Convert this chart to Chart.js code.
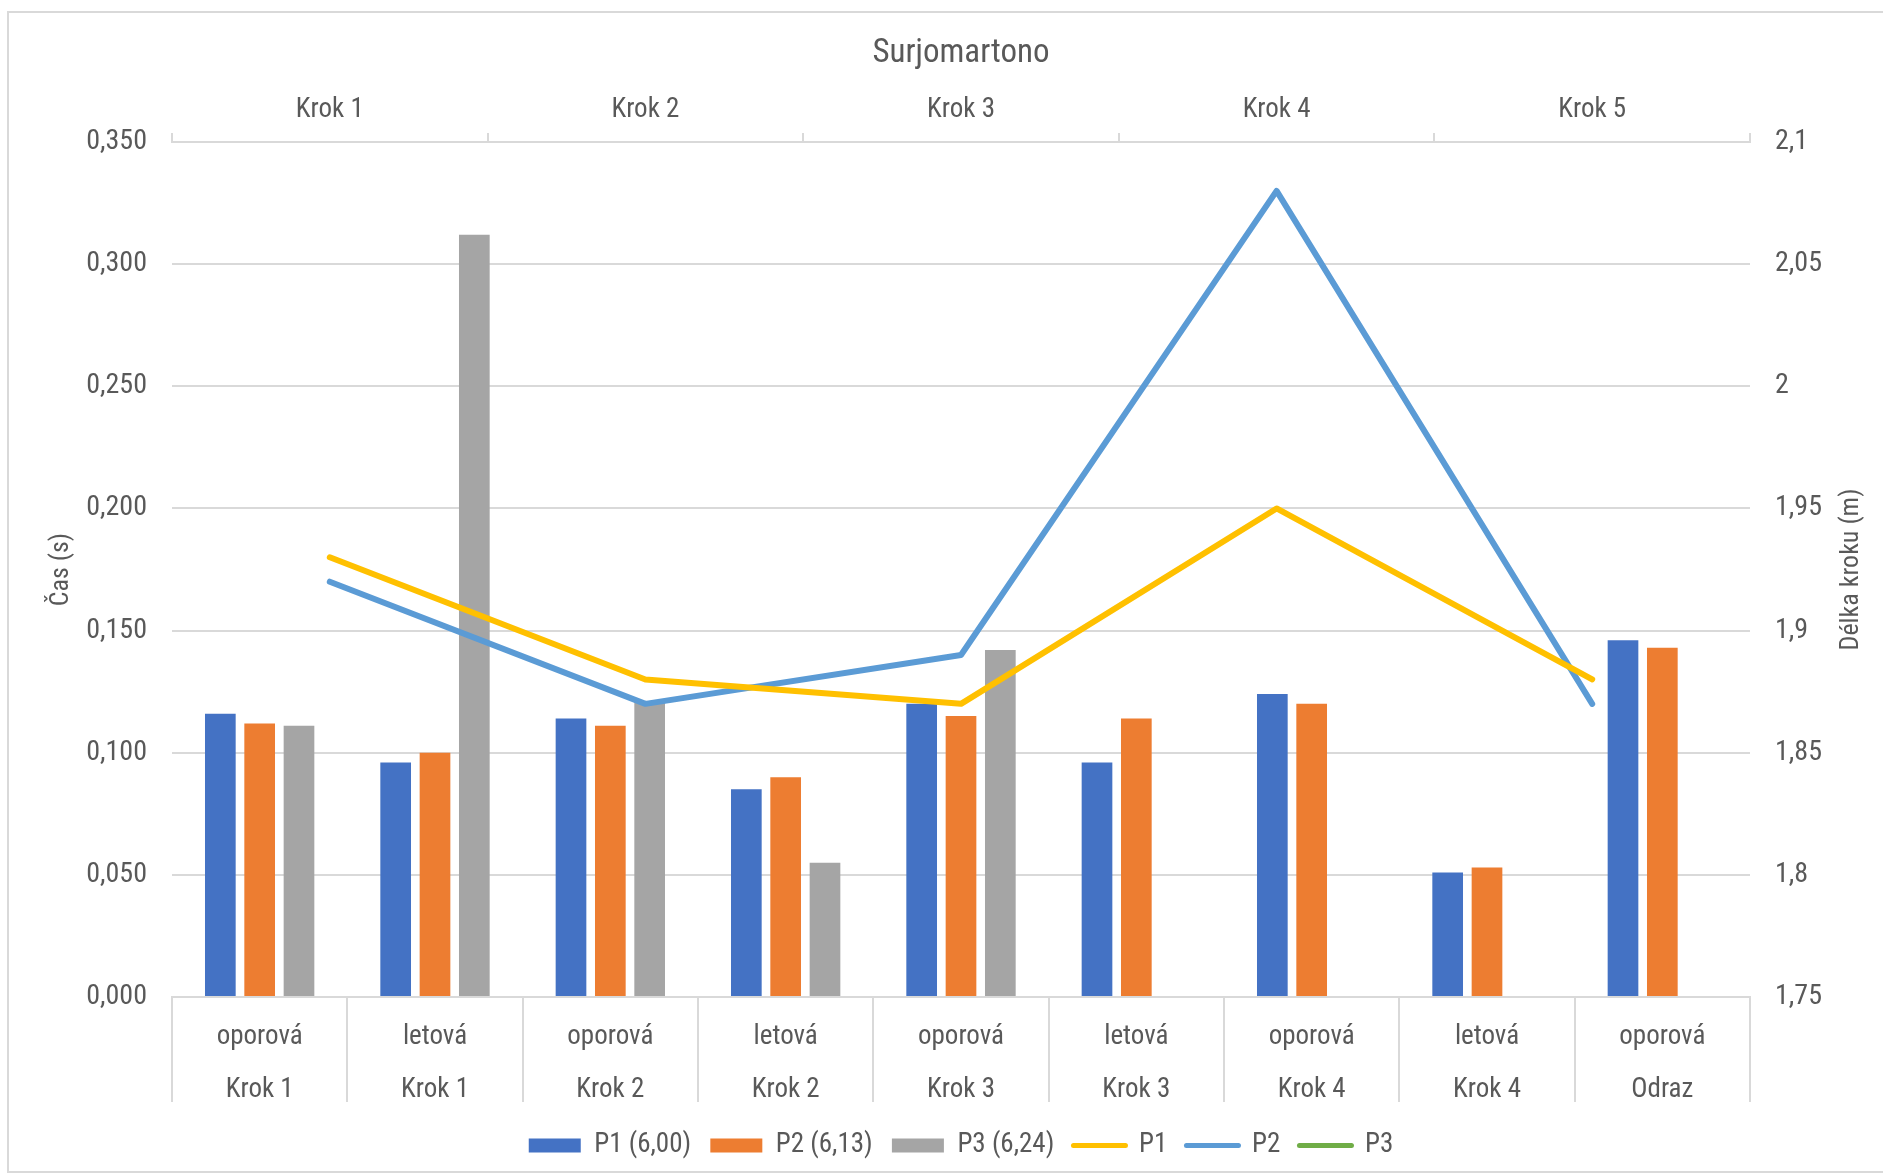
<!DOCTYPE html>
<html>
<head>
<meta charset="utf-8">
<script src="https://cdn.jsdelivr.net/npm/chart.js@4.4.1/dist/chart.umd.min.js"></script>
<style>
  html, body { margin: 0; padding: 0; background: #fff; overflow: hidden; }
  #wrap { position: relative; width: 1883px; height: 1176px; }
  #wrap canvas { position: absolute; left: 0; top: 0; }
  #frame { position: absolute; left: 7px; top: 11px; width: 1900px; height: 1158px; border: 2px solid #d9d9d9; pointer-events: none; }
</style>
</head>
<body>
<div id="wrap">
  <canvas id="graf" width="1883" height="1176"></canvas>
  <canvas id="grafCary" width="1883" height="1176"></canvas>
  <div id="frame"></div>
</div>
<script>
// spodni osa - faze kroku
const faze = ["oporová", "letová", "oporová", "letová", "oporová", "letová", "oporová", "letová", "oporová"]
const kroky = ["Krok 1", "Krok 1", "Krok 2", "Krok 2", "Krok 3", "Krok 3", "Krok 4", "Krok 4", "Odraz"]
// horni osa - delka kroku
const krokyNahore = ["Krok 1", "Krok 2", "Krok 3", "Krok 4", "Krok 5"]

// cas (s)
const casP1 = [0.116, 0.096, 0.114, 0.085, 0.120, 0.096, 0.124, 0.051, 0.146]
const casP2 = [0.112, 0.100, 0.111, 0.090, 0.115, 0.114, 0.120, 0.053, 0.143]
const casP3 = [0.111, 0.312, 0.121, 0.055, 0.142, null, null, null, null]

// delka kroku (m)
const delkaP1 = [1.93, 1.88, 1.87, 1.95, 1.88]
const delkaP2 = [1.92, 1.87, 1.89, 2.08, 1.87]
const delkaP3 = [null, null, null, null, null]

const nazvyBar = ["P1 (6,00)", "P2 (6,13)", "P3 (6,24)"]
const nazvyLine = ["P1", "P2", "P3"]

const barvySloupce = ["#4472C4", "#ED7D31", "#A5A5A5"]
const barvyCary = ["#FFC000", "#5B9BD5", "#70AD47"]

const pismo = "'Liberation Sans Narrow', 'Roboto Condensed', 'DejaVu Sans Condensed', sans-serif"
const seda = "#595959"
const mrizka = "#d9d9d9"

Chart.defaults.font.family = pismo
Chart.defaults.color = seda

const popisky = faze.map((f, i) => [f, kroky[i]])
const casy = [casP1, casP2, casP3]
const delky = [delkaP1, delkaP2, delkaP3]

// nazev prave osy cte se zdola nahoru jako v Excelu
const pravyNazev = {
	id: "pravyNazev",
	afterDraw(chart) {
		const ctx = chart.ctx
		const osa = chart.scales.y1
		const area = chart.chartArea
		ctx.save()
		ctx.translate(osa.right - 32, (area.top + area.bottom) / 2)
		ctx.rotate(-Math.PI / 2)
		ctx.font = "26px " + pismo
		ctx.fillStyle = seda
		ctx.textAlign = "center"
		ctx.textBaseline = "middle"
		ctx.fillText("Délka kroku (m)", 0, 0)
		ctx.restore()
	}
}

// legenda: sloupce i cary
const polozkyLegendy = () => [
	...nazvyBar.map((n, i) => ({
		text: n, fillStyle: barvySloupce[i], strokeStyle: barvySloupce[i],
		lineWidth: 0, pointStyle: "rect", fontColor: seda, hidden: false
	})),
	...nazvyLine.map((n, i) => ({
		text: n, fillStyle: barvyCary[i], strokeStyle: barvyCary[i],
		lineWidth: 5, lineCap: "round", pointStyle: "line", fontColor: seda, hidden: false
	}))
]

const ctxGraf = document.getElementById("graf")

const grafSloupce = new Chart(ctxGraf, {
	type: "bar",
	data: {
		labels: popisky,
		datasets: casy.map((c, i) => ({
			label: nazvyBar[i],
			data: c,
			backgroundColor: barvySloupce[i]
		}))
	},
	options: {
		responsive: false,
		animation: false,
		layout: { padding: { top: 0, left: 0, right: 0, bottom: 7 } },
		categoryPercentage: 0.673,
		barPercentage: 0.78,
		plugins: {
			tooltip: { enabled: false },
			title: {
				display: true,
				fullSize: false,
				text: "Surjomartono",
				color: seda,
				font: { size: 33, weight: "normal" },
				padding: { top: 34.2, bottom: 4.8 }
			},
			legend: {
				position: "bottom",
				fullSize: false,
				labels: {
					font: { size: 27 },
					color: seda,
					usePointStyle: true,
					pointStyleWidth: 52,
					boxHeight: 14,
					padding: 19.2,
					generateLabels: polozkyLegendy
				}
			}
		},
		scales: {
			x: {
				type: "category",
				position: "bottom",
				offset: true,
				grid: { offset: true, drawOnChartArea: false, drawTicks: true, tickLength: 105, color: mrizka, lineWidth: 2 },
				border: { display: true, color: mrizka, width: 2 },
				ticks: { font: { size: 27, lineHeight: 53 / 27 }, color: seda, padding: -91.5, maxRotation: 0, autoSkip: false },
				afterFit: s => { s.height = 115.8 }
			},
			x2: {
				type: "category",
				position: "top",
				labels: krokyNahore,
				offset: true,
				grid: { offset: true, drawOnChartArea: false, drawTicks: true, tickLength: 9, color: mrizka, lineWidth: 2 },
				border: { display: true, color: mrizka, width: 2 },
				ticks: { font: { size: 27 }, color: seda, padding: 6.4, maxRotation: 0 },
				afterFit: s => { s.height = 63.4 }
			},
			y: {
				position: "left",
				min: 0,
				max: 0.35,
				ticks: { stepSize: 0.05, font: { size: 28 }, color: seda, padding: 25, callback: v => v.toFixed(3).replace(".", ",") },
				grid: { color: mrizka, lineWidth: 2, drawTicks: false },
				border: { display: false },
				title: { display: true, text: "Čas (s)", font: { size: 26 }, color: seda, padding: { top: 45.5, bottom: 0 } },
				afterFit: s => { s.width = 172 }
			},
			y1: {
				position: "right",
				min: 1.75,
				max: 2.1,
				ticks: { stepSize: 0.05, font: { size: 28 }, color: seda, padding: 25, callback: v => String(parseFloat(v.toFixed(2))).replace(".", ",") },
				grid: { drawOnChartArea: false, drawTicks: false },
				border: { display: false },
				afterFit: s => { s.width = 133 }
			}
		}
	},
	plugins: [pravyNazev]
})

// cary delky kroku - druha vrstva se stejnou plochou grafu, aby lezely nad sloupci
const plocha = grafSloupce.chartArea
const ctxCary = document.getElementById("grafCary")

new Chart(ctxCary, {
	type: "line",
	data: {
		labels: krokyNahore,
		datasets: delky.map((d, i) => ({
			label: nazvyLine[i],
			data: d,
			borderColor: barvyCary[i],
			backgroundColor: barvyCary[i],
			borderWidth: 6,
			pointRadius: 0,
			tension: 0,
			borderCapStyle: "round",
			borderJoinStyle: "round"
		}))
	},
	options: {
		responsive: false,
		animation: false,
		layout: {
			padding: {
				left: plocha.left,
				top: plocha.top,
				right: ctxCary.width - plocha.right,
				bottom: ctxCary.height - plocha.bottom
			}
		},
		plugins: { legend: { display: false }, title: { display: false }, tooltip: { enabled: false } },
		scales: {
			x: { type: "category", offset: true, display: false },
			y: { min: 1.75, max: 2.1, display: false }
		}
	}
})
</script>
</body>
</html>
